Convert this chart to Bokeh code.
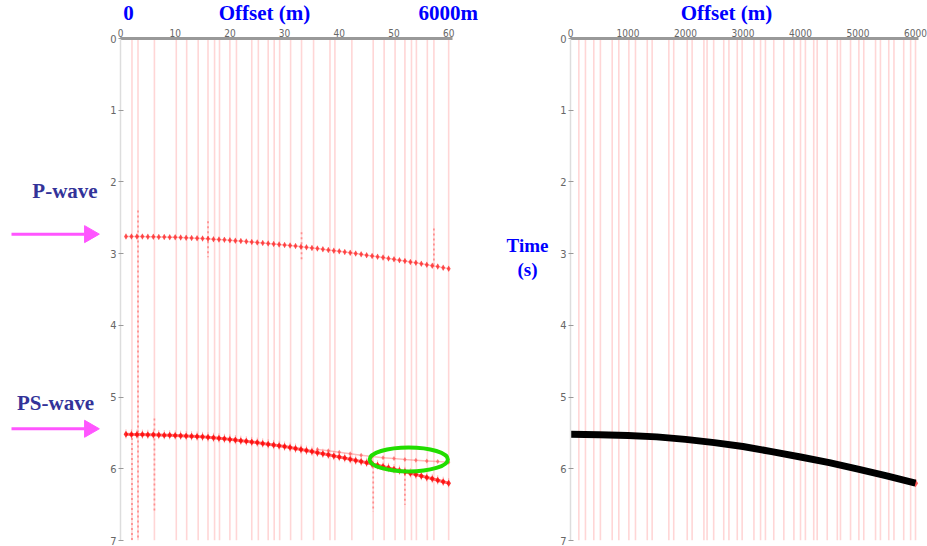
import math
from bokeh.plotting import figure
from bokeh.models import Range1d, FixedTicker
from bokeh.layouts import row, column
from bokeh.core.properties import value
from bokeh.embed import file_html
from bokeh.resources import INLINE

# ---------------- data ----------------
left_ticks = [0, 10, 20, 30, 40, 50, 60]
right_ticks = [0, 1000, 2000, 3000, 4000, 5000, 6000]
time_ticks = [0, 1, 2, 3, 4, 5, 6, 7]

# trace positions (vertical pink lines): left panel in trace numbers, right panel in metres
left_traces = [2.1, 3.2, 6.2, 10.2, 12.1, 14.2, 16.0, 17.2, 18.1, 20.0, 21.2,
               24.0, 25.2, 27.0, 28.1, 29.1, 31.1, 33.1, 35.3, 38.3, 39.2,
               42.3, 46.2, 48.2, 50.2, 52.0, 53.2, 54.1, 56.1, 57.3, 60.0]
right_traces = [145, 260, 405, 520, 725, 840, 1015, 1130, 1335, 1420, 1710,
                1795, 2030, 2115, 2320, 2375, 2490, 2665, 2755, 2900, 2985,
                3190, 3305, 3390, 3535, 3710, 3885, 4000, 4085, 4230, 4290,
                4465, 4640, 4695, 4870, 5015, 5100, 5305, 5390, 5535, 5625,
                5795, 5915, 6000]

trace_no = list(range(1, 61))
p_wave_t = [2.760, 2.761, 2.761, 2.762, 2.763, 2.765, 2.767, 2.769, 2.771, 2.773,
            2.776, 2.779, 2.783, 2.786, 2.790, 2.794, 2.799, 2.803, 2.808, 2.813,
            2.819, 2.824, 2.830, 2.837, 2.843, 2.850, 2.857, 2.864, 2.871, 2.879,
            2.887, 2.895, 2.903, 2.912, 2.920, 2.929, 2.939, 2.948, 2.958, 2.968,
            2.978, 2.988, 2.999, 3.010, 3.021, 3.032, 3.043, 3.055, 3.067, 3.079,
            3.091, 3.103, 3.116, 3.128, 3.141, 3.154, 3.168, 3.181, 3.195, 3.209]
ps_wave_t = [5.520, 5.521, 5.522, 5.523, 5.525, 5.527, 5.529, 5.531, 5.533, 5.535,
             5.538, 5.542, 5.546, 5.550, 5.555, 5.561, 5.568, 5.575, 5.582, 5.590,
             5.599, 5.608, 5.617, 5.626, 5.635, 5.646, 5.657, 5.668, 5.679, 5.690,
             5.704, 5.718, 5.732, 5.746, 5.760, 5.775, 5.790, 5.805, 5.820, 5.835,
             5.851, 5.867, 5.883, 5.899, 5.915, 5.933, 5.951, 5.969, 5.987, 6.005,
             6.024, 6.043, 6.062, 6.081, 6.100, 6.120, 6.140, 6.160, 6.180, 6.200]
# weaker split event (inside the green ellipse)
ps2_trace = [36, 38, 40, 42, 44, 46, 48, 50, 52, 54, 56, 58, 60]
ps2_t = [5.73, 5.75, 5.77, 5.79, 5.81, 5.83, 5.845, 5.858, 5.87, 5.88, 5.89, 5.90, 5.91]

# noise streaks (trace, t start, t end)
noise_trace = [2.1, 3.2, 6.2, 16.0, 33.1, 57.3, 46.2, 52.0]
noise_t0 = [5.5, 2.4, 5.3, 2.55, 2.7, 2.65, 5.9, 6.0]
noise_t1 = [7.0, 7.0, 6.6, 3.05, 3.1, 3.15, 6.6, 6.5]

# modelled PS traveltime curve (right panel)
model_x = [0, 500, 1000, 1500, 2000, 2500, 3000, 3500, 4000, 4500, 5000, 5500, 6000]
model_t = [5.52, 5.525, 5.535, 5.555, 5.59, 5.635, 5.69, 5.76, 5.835, 5.915, 6.005, 6.10, 6.20]

# ---------------- styles ----------------
TITLE_BLUE = "#0000ff"
LABEL_NAVY = "#333399"
SERIF = "Liberation Serif"
TICK_FONT = "'Liberation Sans Narrow', 'DejaVu Sans Condensed', 'DejaVu Sans', sans-serif"
PINK = "#ffd6d6"
ARROW = "#ff55ff"

HEADER_H = 25
TOP_GAP = 38 - HEADER_H
BODY_H = 546 - HEADER_H
PX_PER_S = 502 / 7
T_TOP = -TOP_GAP / PX_PER_S       # time at the top of the body row
T_BOT = 7 + 6 / PX_PER_S          # time at the bottom of the body row


def bare(width, height, xr, yr):
    p = figure(width=width, height=height, x_range=xr, y_range=yr,
               x_axis_location=None, y_axis_location=None,
               output_backend="svg", toolbar_location=None,
               min_border_left=0, min_border_right=0, min_border_top=0, min_border_bottom=0)
    p.xgrid.visible = False
    p.ygrid.visible = False
    p.outline_line_color = None
    return p


def style(p, xticks):
    p.xgrid.visible = False
    p.ygrid.visible = False
    p.outline_line_color = None
    ax = p.xaxis[0]
    ax.ticker = FixedTicker(ticks=xticks)
    ax.axis_line_color = "#999999"
    ax.axis_line_width = 3
    ax.major_tick_out = 1
    ax.major_tick_in = 0
    ax.minor_tick_out = 0
    ax.minor_tick_in = 0
    ax.major_tick_line_color = "#999999"
    ax.major_label_standoff = 1
    ax.major_label_text_font = TICK_FONT
    ax.major_label_text_font_size = "10px"
    ax.major_label_text_color = "#666666"
    ay = p.yaxis[0]
    ay.ticker = FixedTicker(ticks=time_ticks)
    ay.axis_line_color = "#dddddd"
    ay.axis_line_width = 1.5
    ay.major_tick_out = 2
    ay.major_tick_in = 3
    ay.minor_tick_out = 0
    ay.minor_tick_in = 0
    ay.major_tick_line_color = "#999999"
    ay.major_label_standoff = 2
    ay.major_label_text_font = TICK_FONT
    ay.major_label_text_font_size = "11px"
    ay.major_label_text_color = "#666666"


def texts(p, xs, ys, labels, color, size, align="center"):
    p.text(x=xs, y=ys, text=labels, text_align=align, text_baseline="middle",
           text_font=value(SERIF), text_font_style="bold", text_font_size=value(size),
           text_color=color)


# ---------------- header (titles above both panels, pixel units) ----------------
header = bare(927, HEADER_H, Range1d(0, 927), Range1d(HEADER_H, 0))
texts(header, [128, 264, 726], [12.5, 12.5, 12.5], ["0", "Offset (m)", "Offset (m)"], TITLE_BLUE, "21px")
texts(header, [418], [12.5], ["6000m"], TITLE_BLUE, "21px", align="left")

# ---------------- left annotation strip (P-wave / PS-wave arrows) ----------------
side = bare(100, BODY_H, Range1d(0, 100), Range1d(T_BOT, T_TOP))
texts(side, [64.5, 55], [2.02, 5.09], ["P-wave", "PS-wave"], LABEL_NAVY, "21px")
arrow_t = [2.65, 5.467]
side.segment(x0=[11, 11], y0=arrow_t, x1=[84, 84], y1=arrow_t, line_color=ARROW, line_width=3)
side.scatter(x=[89, 89], y=arrow_t, marker="triangle", size=17, angle=-math.pi / 2,
             fill_color=ARROW, line_color=ARROW)

# ---------------- left panel ----------------
p1 = figure(width=370, height=BODY_H, x_range=Range1d(0, 60.7), y_range=Range1d(7, 0),
            x_axis_location="above", output_backend="svg", toolbar_location=None,
            min_border_left=20, min_border_right=18, min_border_top=TOP_GAP, min_border_bottom=6)
style(p1, left_ticks)

p1.segment(x0=left_traces, y0=[time_ticks[0]] * len(left_traces),
           x1=left_traces, y1=[time_ticks[-1]] * len(left_traces),
           line_color=PINK, line_width=1.6)
p1.segment(x0=noise_trace, y0=noise_t0, x1=noise_trace, y1=noise_t1,
           line_color="#ff4444", line_alpha=0.5, line_width=1.8, line_dash="2 3")

# P-wave event
p1.segment(x0=trace_no, y0=[t - 0.04 for t in p_wave_t], x1=trace_no, y1=[t + 0.04 for t in p_wave_t],
           line_color="#ff7777", line_alpha=0.5, line_width=1)
p1.line(trace_no, p_wave_t, line_color="#ff3333", line_alpha=0.35, line_width=1.5)
p1.scatter(trace_no, p_wave_t, marker="diamond", size=6, fill_color="#ff2222",
           line_color=None, fill_alpha=0.75)

# PS-wave event
p1.segment(x0=trace_no, y0=[t - 0.07 for t in ps_wave_t], x1=trace_no, y1=[t + 0.06 for t in ps_wave_t],
           line_color="#ff6666", line_alpha=0.45, line_width=1)
p1.line(trace_no, ps_wave_t, line_color="#ff1111", line_alpha=0.6, line_width=3)
p1.scatter(trace_no, ps_wave_t, marker="diamond", size=7, fill_color="#ff0000",
           line_color=None, fill_alpha=0.8)
p1.scatter(ps2_trace, ps2_t, marker="diamond", size=5, fill_color="#ff3333",
           line_color=None, fill_alpha=0.6)
p1.line(ps2_trace, ps2_t, line_color="#ff5555", line_alpha=0.4, line_width=1.5)

# green ellipse highlighting the split
p1.ellipse(x=[52.7], y=[5.87], width=[14.3], height=[0.335], fill_color=None,
           line_color="#22dd00", line_width=4)

# ---------------- middle strip ("Time (s)") ----------------
mid = bare(85, BODY_H, Range1d(0, 85), Range1d(T_BOT, T_TOP))
texts(mid, [57, 57], [2.81, 3.16], ["Time", "(s)"], TITLE_BLUE, "19px")

# ---------------- right panel ----------------
p2 = figure(width=372, height=BODY_H, x_range=Range1d(0, 6052), y_range=Range1d(7, 0),
            x_axis_location="above", output_backend="svg", toolbar_location=None,
            min_border_left=15, min_border_right=9, min_border_top=TOP_GAP, min_border_bottom=6)
style(p2, right_ticks)
p2.segment(x0=right_traces, y0=[time_ticks[0]] * len(right_traces),
           x1=right_traces, y1=[time_ticks[-1]] * len(right_traces),
           line_color=PINK, line_width=1.6)
p2.scatter([model_x[0], model_x[-1]], [model_t[0], model_t[-1]], marker="diamond", size=8,
           fill_color="#ff3333", line_color=None, fill_alpha=0.8)
p2.line(model_x, model_t, line_color="black", line_width=7)

layout = column(header, row(side, p1, mid, p2))
open("out.html", "w").write(file_html(layout, INLINE))
